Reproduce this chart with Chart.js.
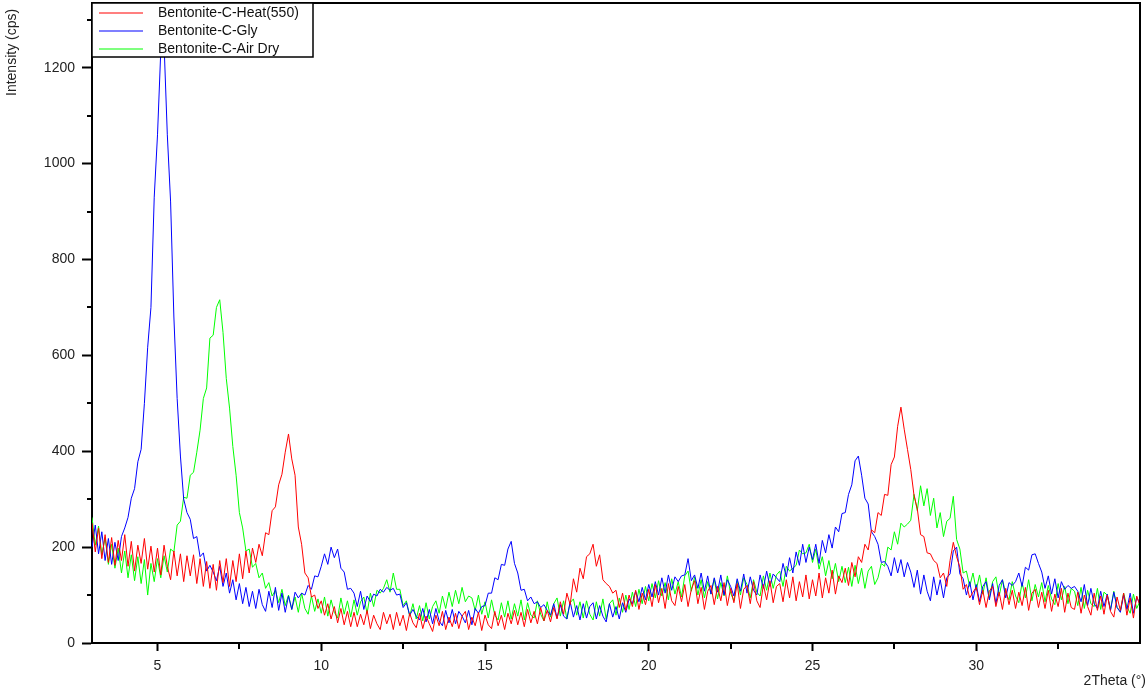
<!DOCTYPE html>
<html>
<head>
<meta charset="utf-8">
<script src="https://cdn.jsdelivr.net/npm/chart.js@4.4.1/dist/chart.umd.min.js"></script>
<style>
  html, body { margin: 0; padding: 0; background: #fff; }
  canvas { display: block; }
</style>
</head>
<body>
<canvas id="xrdChart" width="1147" height="690"></canvas>
<script>
// 2Theta grid: first angle and step (degrees)
const thetaStart = 3;
const thetaStep = 0.1;

// intensities (cps), one row per degree (x.0 .. x.9), last value at 35.0
const heat550 = [
  250, 190, 240, 176, 226, 168, 220, 162, 214, 172,
  226, 160, 212, 150, 204, 166, 218, 154, 202, 148,
  198, 142, 204, 160, 132, 192, 140, 186, 128, 182,
  140, 184, 124, 176, 118, 170, 114, 164, 110, 172,
  126, 176, 118, 172, 128, 186, 134, 192, 146, 198,
  168, 206, 182, 230, 226, 276, 284, 330, 352, 398,
  436, 384, 350, 242, 206, 146, 136, 96, 100, 72,
  88, 58, 82, 50, 76, 42, 72, 38, 66, 34,
  64, 34, 60, 38, 68, 30, 58, 40, 28, 64,
  40, 60, 28, 64, 36, 58, 26, 62, 42, 32,
  62, 30, 56, 40, 24, 58, 36, 66, 28, 54,
  34, 62, 30, 56, 66, 28, 54, 36, 64, 26,
  58, 38, 30, 66, 36, 58, 28, 62, 40, 68,
  38, 64, 34, 70, 42, 66, 40, 74, 46, 68,
  44, 74, 50, 86, 60, 104, 80, 134, 106, 156,
  134, 180, 186, 206, 160, 184, 132, 124, 118, 104,
  110, 74, 104, 68, 100, 76, 110, 70, 104, 80,
  112, 76, 122, 84, 114, 72, 124, 88, 78, 118,
  86, 122, 76, 112, 130, 82, 116, 70, 108, 120,
  80, 118, 88, 126, 78, 114, 84, 124, 72, 112,
  120, 82, 128, 88, 74, 122, 90, 130, 84, 118,
  124, 86, 132, 94, 138, 88, 128, 96, 142, 92,
  132, 98, 146, 94, 136, 104, 152, 102, 140, 126,
  156, 120, 168, 138, 180, 168, 206, 194, 236, 230,
  272, 266, 310, 308, 372, 388, 452, 492, 446, 404,
  362, 308, 280, 226, 222, 188, 186, 172, 166, 136,
  146, 118, 172, 210, 180, 158, 112, 122, 94, 106,
  116, 80, 110, 74, 108, 118, 76, 106, 70, 114,
  80, 110, 72, 106, 78, 116, 68, 104, 112, 74,
  106, 72, 110, 66, 102, 76, 114, 64, 104, 74,
  70, 106, 62, 100, 76, 58, 104, 68, 98, 60,
  100, 66, 54, 96, 68, 104, 58, 94, 52, 98,
  78
];

const glycol = [
  200, 246, 186, 232, 172, 218, 164, 210, 172, 222,
  240, 262, 302, 322, 378, 404, 500, 617, 700, 930,
  1060, 1235, 1250, 1060, 920, 680, 510, 390, 300, 272,
  258, 218, 222, 180, 188, 150, 162, 148, 130, 160,
  118, 146, 104, 132, 90, 124, 82, 116, 76, 108,
  72, 112, 80, 66, 108, 74, 116, 68, 104, 64,
  98, 70, 106, 94, 104, 100, 120, 112, 140, 138,
  160, 186, 164, 200, 178, 196, 156, 148, 112, 114,
  104, 76, 108, 70, 98, 86, 102, 98, 112, 106,
  116, 110, 114, 100, 102, 74, 84, 58, 70, 56,
  48, 72, 44, 70, 40, 72, 46, 36, 68, 42,
  70, 40, 66, 56, 42, 68, 38, 72, 62, 76,
  78, 104, 104, 136, 132, 164, 162, 196, 212, 166,
  146, 110, 112, 88, 96, 82, 86, 74, 80, 68,
  58, 82, 52, 80, 56, 50, 86, 54, 78, 48,
  82, 52, 76, 84, 50, 78, 56, 44, 82, 54,
  76, 50, 84, 64, 92, 82, 108, 86, 116, 90,
  122, 96, 128, 100, 136, 104, 142, 110, 138, 128,
  140, 142, 176, 130, 142, 114, 146, 108, 140, 102,
  136, 106, 142, 100, 132, 118, 98, 134, 108, 144,
  104, 138, 110, 100, 142, 114, 150, 118, 144, 136,
  128, 166, 138, 178, 146, 190, 162, 206, 168, 200,
  174, 206, 166, 214, 188, 226, 198, 242, 232, 270,
  272, 310, 330, 380, 390, 350, 302, 290, 232, 222,
  206, 168, 170, 160, 140, 178, 146, 174, 138, 168,
  148, 116, 152, 102, 142, 108, 88, 138, 100, 132,
  94, 136, 144, 192, 200, 144, 134, 100, 128, 90,
  122, 86, 118, 128, 90, 124, 82, 120, 132, 94,
  126, 120, 128, 146, 118, 158, 152, 184, 186, 166,
  148, 114, 140, 102, 134, 94, 128, 112, 120, 114,
  118, 108, 86, 122, 78, 114, 82, 72, 108, 76,
  102, 68, 106, 74, 64, 100, 70, 104, 62, 96,
  80
];

const airDry = [
  262, 204, 244, 184, 220, 164, 206, 156, 198, 146,
  192, 136, 184, 130, 180, 124, 174, 100, 166, 128,
  176, 136, 182, 148, 196, 190, 246, 254, 304, 302,
  350, 356, 398, 444, 510, 532, 636, 642, 700, 716,
  648, 552, 490, 410, 350, 272, 240, 192, 196, 158,
  166, 136, 146, 114, 126, 98, 110, 84, 112, 78,
  100, 70, 96, 64, 104, 72, 60, 98, 66, 92,
  62, 96, 56, 90, 64, 52, 94, 60, 88, 54,
  90, 58, 86, 96, 62, 104, 76, 110, 104, 114,
  132, 106, 146, 112, 112, 78, 88, 56, 82, 50,
  78, 46, 84, 50, 76, 88, 62, 98, 72, 106,
  76, 110, 82, 116, 86, 98, 94, 68, 100, 60,
  86, 52, 90, 58, 48, 84, 54, 88, 50, 82,
  56, 90, 48, 84, 58, 52, 88, 60, 46, 86,
  54, 82, 94, 56, 88, 50, 84, 92, 58, 86,
  52, 88, 60, 48, 86, 56, 92, 50, 82, 90,
  58, 94, 64, 100, 70, 106, 76, 112, 82, 118,
  88, 124, 94, 130, 98, 126, 90, 134, 102, 128,
  96, 140, 150, 108, 138, 100, 132, 94, 128, 102,
  134, 92, 126, 98, 140, 104, 88, 130, 100, 136,
  122, 94, 132, 106, 98, 140, 110, 146, 114, 142,
  150, 118, 160, 150, 156, 162, 194, 186, 188, 206,
  168, 196, 154, 180, 140, 172, 134, 166, 128, 160,
  126, 158, 118, 162, 124, 156, 114, 150, 160, 122,
  136, 166, 160, 200, 194, 232, 206, 250, 242, 248,
  256, 310, 276, 328, 286, 322, 266, 302, 240, 272,
  222, 254, 260, 306, 216, 196, 146, 150, 118, 146,
  110, 142, 102, 136, 94, 128, 138, 98, 132, 104,
  90, 128, 98, 84, 126, 94, 132, 88, 122, 96,
  126, 86, 120, 92, 80, 124, 90, 118, 82, 114,
  108, 78, 116, 72, 110, 82, 76, 114, 70, 106,
  100, 70, 108, 74, 66, 104, 76, 62, 102, 72,
  88
];

const seriesNames = ['Bentonite-C-Heat(550)', 'Bentonite-C-Gly', 'Bentonite-C-Air Dry'];
const seriesColors = ['#ff0000', '#0000ff', '#00ff00'];

const xMajorTicks = [5, 10, 15, 20, 25, 30];
const xMinorTicks = [7.5, 12.5, 17.5, 22.5, 27.5, 32.5];
const yMajorTicks = [0, 200, 400, 600, 800, 1000, 1200];
const yMinorTicks = [100, 300, 500, 700, 900, 1100, 1300];

const FONT = 'Arial, "Liberation Sans", sans-serif';

function toPoints(values) {
    return values.map((v, i) => ({ x: +(thetaStart + i * thetaStep).toFixed(1), y: v }));
}

const decorations = {
    id: 'decorations',
    afterDraw(chart) {
        const ctx = chart.ctx;
        const a = chart.chartArea;
        const xs = chart.scales.x, ys = chart.scales.y;
        ctx.save();
        ctx.strokeStyle = '#000';
        ctx.lineWidth = 2;

        // top and right frame
        ctx.beginPath();
        ctx.moveTo(a.left, a.top);
        ctx.lineTo(a.right, a.top);
        ctx.lineTo(a.right, a.bottom);
        ctx.stroke();

        // minor ticks
        ctx.beginPath();
        xMinorTicks.forEach(v => {
            const px = Math.round(xs.getPixelForValue(v));
            ctx.moveTo(px, a.bottom);
            ctx.lineTo(px, a.bottom + 6);
        });
        yMinorTicks.forEach(v => {
            const py = Math.round(ys.getPixelForValue(v));
            ctx.moveTo(a.left - 5, py);
            ctx.lineTo(a.left, py);
        });
        ctx.stroke();

        // legend box
        const lx = a.left, ly = a.top, lw = 221, lh = 54;
        ctx.fillStyle = '#fff';
        ctx.fillRect(lx, ly, lw, lh);
        ctx.strokeStyle = '#000';
        ctx.lineWidth = 1.5;
        ctx.strokeRect(lx, ly, lw, lh);
        ctx.font = '14px ' + FONT;
        ctx.textBaseline = 'middle';
        ctx.textAlign = 'left';
        seriesNames.forEach((name, i) => {
            const yy = Math.round(ly + 10 + i * 18);
            ctx.strokeStyle = seriesColors[i];
            ctx.lineWidth = 1.2;
            ctx.beginPath();
            ctx.moveTo(lx + 7, yy);
            ctx.lineTo(lx + 51, yy);
            ctx.stroke();
            ctx.fillStyle = '#111';
            ctx.fillText(name, lx + 66, yy);
        });

        // axis titles
        ctx.fillStyle = '#222';
        ctx.font = '14px ' + FONT;
        ctx.save();
        ctx.translate(12, 96);
        ctx.rotate(-Math.PI / 2);
        ctx.textAlign = 'left';
        ctx.textBaseline = 'middle';
        ctx.fillText('Intensity (cps)', 0, 0);
        ctx.restore();
        ctx.textAlign = 'right';
        ctx.textBaseline = 'middle';
        ctx.fillText('2Theta (°)', 1146, 681);
        ctx.restore();
    }
};

new Chart(document.getElementById('xrdChart').getContext('2d'), {
    type: 'line',
    data: {
        datasets: [heat550, glycol, airDry].map((vals, i) => ({
            label: seriesNames[i],
            data: toPoints(vals),
            borderColor: seriesColors[i],
            borderWidth: 1,
            pointRadius: 0,
            tension: 0,
            fill: false
        }))
    },
    options: {
        responsive: false,
        animation: false,
        devicePixelRatio: 1,
        layout: { padding: { top: 3, right: 7, left: 0, bottom: 0 } },
        plugins: { legend: { display: false }, tooltip: { enabled: false } },
        scales: {
            x: {
                type: 'linear',
                min: 3,
                max: 35,
                afterBuildTicks: s => { s.ticks = xMajorTicks.map(v => ({ value: v })); },
                afterFit: s => { s.height = 47; s.paddingLeft = 0; s.paddingRight = 0; },
                grid: { drawOnChartArea: false, tickLength: 8, tickWidth: 2, tickColor: '#000' },
                border: { color: '#000', width: 2 },
                ticks: { color: '#222', font: { size: 14, family: FONT }, padding: 7, maxRotation: 0,
                         callback: v => String(v) }
            },
            y: {
                type: 'linear',
                min: 0,
                max: 1335,
                afterBuildTicks: s => { s.ticks = yMajorTicks.map(v => ({ value: v })); },
                afterFit: s => { s.width = 92; s.paddingTop = 0; s.paddingBottom = 0; },
                grid: { drawOnChartArea: false, tickLength: 10, tickWidth: 2, tickColor: '#000' },
                border: { color: '#000', width: 2 },
                ticks: { color: '#222', font: { size: 14, family: FONT }, padding: 7,
                         callback: v => String(v) }
            }
        }
    },
    plugins: [decorations]
});
</script>
</body>
</html>
